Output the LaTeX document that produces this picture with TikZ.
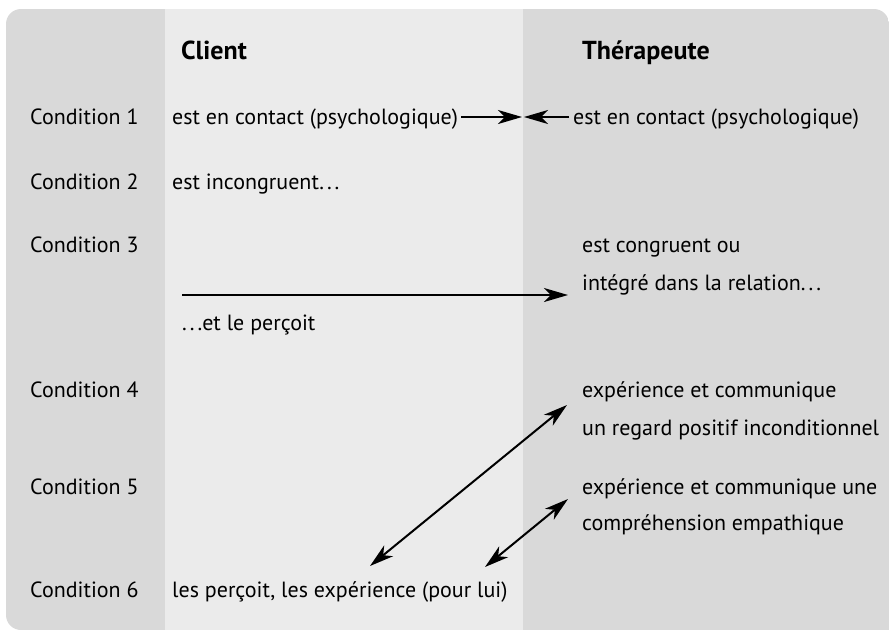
\documentclass[tikz,border=0pt]{standalone}
\usepackage{fontspec}
\setmainfont{PT Sans}
\usetikzlibrary{arrows.meta}
\definecolor{sidegray}{HTML}{D9D9D9}
\definecolor{midgray}{HTML}{EBEBEB}
\newcommand{\spdots}{.\kern3pt.\kern3pt.}

\begin{document}
\begin{tikzpicture}[x=1pt, y=-1pt, >={Stealth[length=24pt, width=14pt, inset=7pt]},
	txt/.style={anchor=base west, inner sep=0pt, font=\fontsize{22}{26}\selectfont},
	head/.style={anchor=base west, inner sep=0pt, font=\fontsize{26}{30}\selectfont\bfseries},
	link/.style={line width=2pt}]
	\useasboundingbox (0,0) rectangle (889,630);
	\begin{scope}
		\clip (889,630) -- (21,630) arc[start angle=90, end angle=180, radius=15]
			-- (6,24) arc[start angle=180, end angle=270, radius=15]
			-- (874,9) arc[start angle=270, end angle=360, radius=15] -- cycle;
		\fill[sidegray] (0,0) rectangle (165,630);
		\fill[midgray] (165,0) rectangle (523,630);
		\fill[sidegray] (523,0) rectangle (889,630);
	\end{scope}
	\node[head] (client) at (181,59) {Client};
	\node[head] (therapeute) at (582,59) {Thérapeute};
	\node[txt] (cond1) at (30,124) {Condition 1};
	\node[txt] (cond2) at (30,189) {Condition 2};
	\node[txt] (cond3) at (30,252) {Condition 3};
	\node[txt] (cond4) at (30,397) {Condition 4};
	\node[txt] (cond5) at (30,494) {Condition 5};
	\node[txt] (cond6) at (30,597) {Condition 6};
	\node[txt] (cl1) at (172,124) {est en contact (psychologique)};
	\node[txt] (cl2) at (172,189) {est incongruent\spdots};
	\node[txt] (cl3) at (182,330) {\spdots et le perçoit};
	\node[txt] (cl6) at (172,597) {les perçoit, les expérience (pour lui)};
	\node[txt] (th1) at (573,124) {est en contact (psychologique)};
	\node[txt] (th3a) at (582,252) {est congruent ou};
	\node[txt] (th3b) at (582,290) {intégré dans la relation\spdots};
	\node[txt] (th4a) at (582,397) {expérience et communique};
	\node[txt] (th4b) at (582,435) {un regard positif inconditionnel};
	\node[txt] (th5a) at (582,494) {expérience et communique une};
	\node[txt] (th5b) at (582,530) {compréhension empathique};
	\coordinate (meetl) at (522,117);
	\coordinate (meetr) at (524,117);
	\coordinate (start3) at (182,295);
	\coordinate (low4) at (370,566);
	\coordinate (high4) at (567,405);
	\coordinate (low5) at (485,567);
	\coordinate (high5) at (568,499);
	\draw[link,->] ([xshift=3pt]cl1.east |- meetl) -- (meetl);
	\draw[link,->] ([xshift=-4pt]th1.west |- meetr) -- (meetr);
	\draw[link,->] (start3) -- ([xshift=-14pt]th3b.west |- start3);
	\draw[link,<->] (low4) -- (high4);
	\draw[link,<->] (low5) -- (high5);
\end{tikzpicture}
\end{document}
